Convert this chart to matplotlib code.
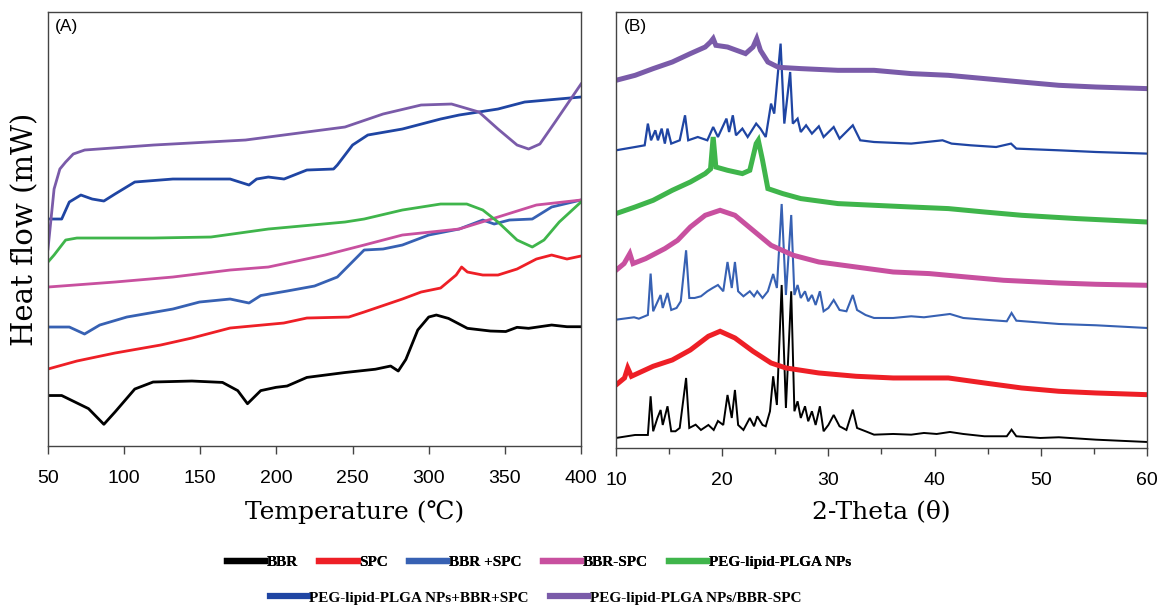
import matplotlib
matplotlib.use('Agg')
import matplotlib.pyplot as plt

# ---- (A) DSC: temperature (C) vs heat flow (arb., offset traces) ----
t_bbr = [50, 59, 76.6, 86.7, 94, 107, 119, 144.5, 164.6, 174.6, 181, 189.7, 199.8, 207, 220, 245,
         265, 275, 280, 285, 292.8, 300, 305, 313, 325.4, 340.5, 350.6, 358, 365.6, 380.7, 390.8, 400]
h_bbr = [50.5, 50.5, 37.4, 21.7, 34, 57, 64, 65, 63.6, 55.4, 42.3, 55.4, 58.7, 60, 68.6, 73.5,
         76.8, 80, 75, 86.6, 116, 129, 131, 127.6, 117.7, 115, 114.5, 118.7, 117.7, 121, 119.3, 119.3]

t_spc = [50, 69, 94, 124, 144.5, 169.6, 204.8, 220, 247.5, 257.6, 282.7, 295, 307.8, 318, 321.6,
         325.4, 335.5, 345.5, 358, 370.7, 380.7, 390.8, 400]
h_spc = [77, 85, 93, 101, 108, 118, 123, 128, 129, 134, 147, 154, 158, 171, 179,
         174, 171, 171, 177, 187, 191, 187, 190]

t_mix = [50, 64, 74, 84, 101.8, 132, 149.5, 169.6, 182, 189.7, 207, 225, 240, 257.6, 270, 282.7,
         300, 320, 335.5, 343, 353, 368, 380.7, 400]
h_mix = [119, 119, 112, 121, 129, 137, 144, 147, 143, 150.5, 155, 160, 169, 196, 197, 201,
         211, 217, 226, 222, 226, 227, 239, 246]

t_cpx = [50, 94, 132, 169.6, 194.7, 232, 257.6, 282.7, 320, 345.5, 370.7, 400]
h_cpx = [159, 164, 169, 176, 179, 191, 201, 211, 217, 229, 241, 246]

t_np = [50, 54, 61.6, 69, 119, 157, 194.7, 245, 257.6, 282.7, 307.8, 325, 335.5, 345.5, 358,
        368, 375.7, 385.7, 400]
h_np = [184, 191, 206, 208, 208, 209, 217, 224, 227, 236, 242, 242, 236, 224, 206,
        199, 206, 224, 244]

t_npm = [50, 59, 64, 71.6, 79, 86.7, 94, 107, 132, 169.6, 182, 187, 194.7, 205, 220, 237.5, 240,
         250, 260, 282.7, 307.8, 320, 345.5, 363, 400]
h_npm = [227, 227, 244, 251, 247, 245, 252, 264, 267, 267, 261, 267, 269, 267, 276, 277, 281,
         301, 311, 317, 327, 331, 337, 344, 349]

t_npc = [50, 54, 57.8, 61.6, 66.6, 74.1, 119.4, 179.7, 245, 270, 295, 315, 333, 345.5, 358,
         365.6, 373, 383, 400]
h_npc = [197, 257, 277, 284, 292, 296, 301, 306, 319, 332, 341, 342, 334, 317, 301,
         297, 302, 324, 362]

# ---- (B) XRD: 2-theta vs intensity (arb., offset traces) ----
x_bbr = [10, 11.8, 13.0, 13.26, 13.5, 13.9, 14.2, 14.4, 14.85, 15.2, 15.6, 16.0, 16.6, 16.9, 17.5,
         18.0, 18.7, 19.2, 19.6, 20.1, 20.5, 20.9, 21.2, 21.5, 22.0, 22.6, 23.0, 23.3, 23.8, 24.1,
         24.5, 24.8, 25.15, 25.6, 26.0, 26.5, 26.8, 27.1, 27.4, 27.8, 28.1, 28.45, 28.8, 29.2,
         29.55, 30.0, 30.5, 31.05, 31.7, 32.3, 32.7, 33.5, 34.3, 36.1, 37.8, 39.0, 40.2, 41.45,
         42.7, 44.7, 46.8, 47.25, 47.7, 49.95, 51.7, 55.2, 60]
i_bbr = [10, 13, 13, 51.7, 16.7, 30, 38, 23, 41.7, 16.7, 16.7, 20, 70, 20, 23.3,
         18, 23, 18, 27, 23, 53, 30, 58, 23, 18, 30, 21.7, 31.7, 23, 21.7,
         36.7, 71.7, 43, 163, 40, 156.7, 36.7, 46.7, 30, 41.7, 26.7, 36.7, 23, 41.7,
         16.7, 23, 33, 21.7, 18, 38.3, 20, 16.7, 13.3, 14, 13.3, 15, 14, 16,
         14, 11.7, 11.7, 18.3, 11.7, 10, 10.7, 8.3, 6]

x_spc = [10, 10.8, 11.1, 11.45, 13.5, 15.3, 17.0, 18.7, 19.8, 21.2, 22.9, 24.6, 26.0, 29.1, 32.6,
         36.1, 39.5, 41.3, 44.7, 48.2, 51.7, 55.2, 60]
i_spc = [63, 70, 80, 71.7, 81.7, 88, 98, 111.7, 116.7, 110, 96.7, 85, 80, 75, 71.7,
         70, 70, 70, 65, 60, 56.7, 55, 53.3]

x_mix = [10, 11.7, 12.15, 13.0, 13.26, 13.5, 14.2, 14.4, 14.85, 15.2, 15.7, 16.1, 16.6, 16.9, 17.4,
         18.0, 18.6, 19.1, 19.6, 20.1, 20.5, 20.9, 21.2, 21.5, 22.0, 22.6, 23.0, 23.3, 23.8, 24.3,
         24.8, 25.15, 25.6, 26.0, 26.5, 26.8, 27.1, 27.4, 27.8, 28.1, 28.45, 28.8, 29.2, 29.55,
         30.0, 30.5, 31.05, 31.7, 32.3, 32.7, 33.5, 34.3, 36.1, 37.8, 39.0, 41.45, 42.7, 44.7,
         46.8, 47.25, 47.7, 51.7, 55.2, 60]
i_mix = [128.3, 130.7, 129.3, 133, 174.4, 136.7, 153, 140, 155, 138, 140, 146.7, 197.7, 150, 150,
         151.7, 156.7, 160, 163, 156.7, 186, 160, 186, 156.7, 151.7, 156.7, 151.7, 156.7, 150, 156.7,
         174, 160, 244, 153, 233, 153, 163, 150, 156.7, 146.7, 153, 143, 156.7, 136.7,
         140, 148, 138, 136.7, 153, 138, 133, 130, 130, 131.7, 130.7, 134, 130, 128.3,
         126.7, 135, 127.3, 124, 122.7, 120]

x_cpx = [10, 10.76, 11.3, 11.6, 12.8, 14.6, 15.8, 17.0, 18.4, 19.8, 21.2, 22.9, 24.6, 26.7, 29.1,
         32.6, 36.1, 39.5, 43.0, 46.5, 51.7, 55.2, 60]
i_cpx = [177.7, 184.4, 194.4, 184.4, 189.4, 199.4, 207.7, 221, 232.7, 237.7, 232.7, 217.7, 202.7,
         192.7, 186, 181, 176, 174.4, 171, 167.7, 165, 163.7, 162.7]

x_np = [10, 11.8, 13.5, 15.3, 17.0, 18.4, 18.9, 19.15, 19.4, 20.5, 21.9, 22.6, 23.2, 23.4, 23.8,
        24.3, 25.7, 27.4, 30.9, 34.3, 37.8, 41.3, 44.7, 48.2, 53.4, 60]
i_np = [234.4, 241, 247.7, 257.7, 266, 274.4, 279, 311, 281, 277.7, 274.4, 277.7, 304.4, 307.7,
        287.7, 259.4, 254.4, 249.4, 244.4, 242.7, 241, 239.4, 236, 232.7, 229.4, 226]

x_npm = [10, 11.8, 12.7, 13.0, 13.3, 13.7, 13.95, 14.3, 14.6, 14.85, 15.2, 16.0, 16.5, 16.8, 17.7,
         18.6, 19.15, 19.6, 20.4, 20.65, 21.0, 21.3, 21.9, 22.4, 23.2, 23.6, 24.1, 24.6, 24.9,
         25.5, 25.85, 26.4, 26.65, 27.1, 27.4, 27.9, 28.45, 29.1, 29.55, 30.5, 31.05, 32.3, 33.0,
         34.3, 37.8, 40.75, 41.6, 43.4, 45.8, 47.2, 47.7, 51.7, 55.2, 60]
i_npm = [297.7, 301, 302.7, 324.4, 307.7, 317.7, 307.7, 319.4, 304.4, 319.4, 304.4, 307.7, 332.7,
         307.7, 311, 307.7, 321, 311, 329.4, 316, 332.7, 312.7, 319.4, 311, 324.4, 319.4, 311,
         344.4, 334.4, 404.4, 324.4, 376, 324.4, 329.4, 316, 322.7, 314.4, 321.7, 311, 321, 309.4,
         322.7, 307.7, 306, 304.4, 307.7, 304.4, 302.7, 301, 304.4, 299.4, 297.7, 296, 294.4]

x_npc = [10, 11.8, 13.5, 15.3, 17.0, 18.4, 18.9, 19.15, 19.4, 20.5, 22.2, 22.9, 23.25, 23.6, 24.3,
         25.3, 27.4, 30.9, 34.3, 37.8, 41.3, 44.7, 48.2, 51.7, 55.2, 60]
i_npc = [367.7, 372.7, 379.4, 386, 394.4, 401, 406, 409.4, 402.7, 401, 394.4, 401, 409.4, 397.7,
         386, 380.7, 379.4, 377.7, 377.7, 374.4, 372.7, 369.4, 366, 362.7, 361, 359.4]

labels = ['BBR', 'SPC', 'BBR +SPC', 'BBR-SPC', 'PEG-lipid-PLGA NPs',
          'PEG-lipid-PLGA NPs+BBR+SPC', 'PEG-lipid-PLGA NPs/BBR-SPC']
colors = ['#000000', '#ee1f26', '#3761b3', '#c8509f', '#3fb54b', '#1f45a3', '#7a5ba9']

serif = ['DejaVu Serif']
sans = ['Liberation Sans', 'DejaVu Sans']
fig = plt.figure(figsize=(11.59, 6.07), dpi=100)
axA = fig.add_axes([0.0414, 0.2652, 0.4599, 0.7150])
axB = fig.add_axes([0.5315, 0.2620, 0.4581, 0.7182])

dsc = [(t_bbr, h_bbr), (t_spc, h_spc), (t_mix, h_mix), (t_cpx, h_cpx),
       (t_np, h_np), (t_npm, h_npm), (t_npc, h_npc)]
handles = []
for (t, h), c, lab in zip(dsc, colors, labels):
    ln, = axA.plot(t, h, color=c, lw=2.0, label=lab, solid_joinstyle='round')
    handles.append(ln)

xrd = [(x_bbr, i_bbr, 1.4), (x_spc, i_spc, 3.6), (x_mix, i_mix, 1.5), (x_cpx, i_cpx, 3.6),
       (x_np, i_np, 3.6), (x_npm, i_npm, 1.6), (x_npc, i_npc, 3.6)]
for (x, y, w), c in zip(xrd, colors):
    axB.plot(x, y, color=c, lw=w, solid_joinstyle='miter')

for ax in (axA, axB):
    for s in ax.spines.values():
        s.set_color('#444444')
        s.set_linewidth(1.0)
    ax.set_yticks([])
    ax.tick_params(axis='x', direction='out', length=6, width=1, labelsize=14, pad=11,
                   color='#444444', labelfontfamily='Liberation Sans')

axA.set_xlim(50, 400)
axA.set_ylim(0, 434)
axA.set_xticks(range(50, 401, 50))
axA.set_xlabel('Temperature (℃)', family=serif, fontsize=18, labelpad=9)
axA.xaxis.set_label_coords(0.575, -0.125)
axA.set_ylabel('Heat flow (mW)', family=serif, fontsize=21, labelpad=6)
axA.text(0.012, 0.985, '(A)', transform=axA.transAxes, fontsize=12.5, va='top', family=sans)

axB.set_xlim(10, 60)
axB.set_ylim(0, 436)
axB.set_xticks(range(10, 61, 10))
axB.set_xticks(range(15, 60, 10), minor=True)
axB.tick_params(axis='x', which='minor', direction='out', length=4, width=1, color='#444444')
axB.set_xlabel('2-Theta (θ)', family=serif, fontsize=18, labelpad=9)
axB.xaxis.set_label_coords(0.5, -0.12)
axB.text(0.015, 0.985, '(B)', transform=axB.transAxes, fontsize=12.5, va='top', family=sans)

leg_kw = dict(frameon=False, handlelength=2.5, handletextpad=0.1, columnspacing=1.4,
              prop={'family': 'Liberation Serif', 'weight': 'bold', 'size': 11})
leg1 = fig.legend(handles[:5], labels[:5], ncol=5, loc='center', bbox_to_anchor=(0.465, 0.074),
                  **leg_kw)
for lh in leg1.get_lines():
    lh.set_linewidth(4.5)
fig.add_artist(leg1)
leg2 = fig.legend(handles[5:], labels[5:], ncol=2, loc='center', bbox_to_anchor=(0.462, 0.015),
                  **leg_kw)
for lh in leg2.get_lines():
    lh.set_linewidth(4.5)

fig.savefig('out.png', dpi=100)
